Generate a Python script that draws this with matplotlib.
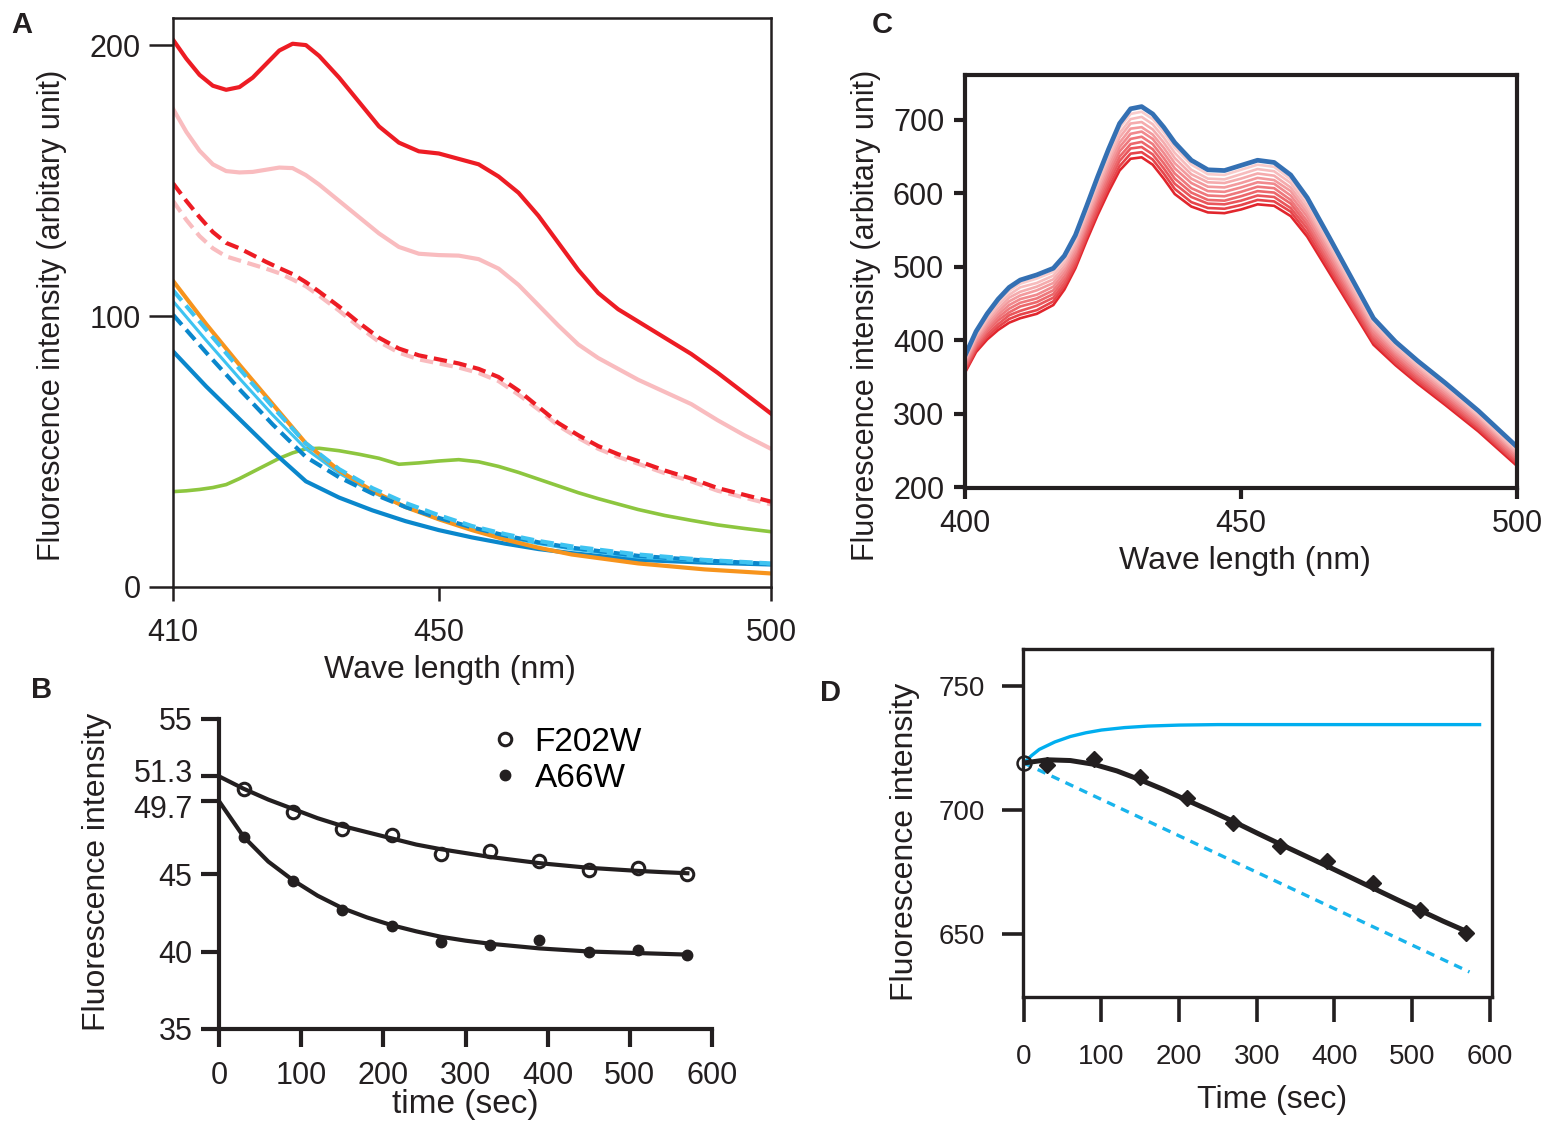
# Four-panel fluorescence figure (A: emission spectra, B: time course of two
# mutants, C: spectra series, D: time course with model curves).

import matplotlib
matplotlib.use("Agg")
import matplotlib.pyplot as plt
import matplotlib.transforms as mtransforms
from matplotlib.lines import Line2D

plt.rcParams['font.family'] = ['Liberation Sans', 'DejaVu Sans']
INK = '#231f20'

# ---------------- panel A: spectra 410-500 nm ----------------
wl_a = [410, 412, 414, 416, 418, 420, 422, 424, 426, 428, 430, 432, 435, 438,
        441, 444, 447, 450, 453, 456, 459, 462, 465, 468, 471, 474, 477, 480,
        484, 488, 492, 496, 500]
a_red = [202, 195, 189, 185, 183.5, 184.5, 188, 193, 198, 200.5, 200, 196,
         188, 179, 170, 164, 160.8, 160, 158, 156, 151.5, 145.5, 137, 127,
         117, 108.5, 102.5, 98, 92, 86, 79, 71.5, 64]
a_pink = [176.5, 168, 161, 156, 153.5, 153, 153.2, 154, 154.8, 154.6, 152,
          148.5, 142.5, 136.5, 130.5, 125.5, 123, 122.5, 122.3, 121, 117.5,
          111.5, 104, 96.5, 89.5, 84.5, 80.5, 76.5, 72, 67.5, 61.5, 56, 51]
a_red_dash = [149, 142.5, 136.5, 131, 127, 125, 122.5, 120, 117.7, 115.5,
              112.5, 109, 103.5, 97.5, 92, 88, 85.5, 84, 82.5, 80.5, 77.5,
              72.5, 66.5, 60.5, 56, 52, 49, 46.5, 43, 40, 36.5, 34, 31.5]
a_pink_dash = [142.5, 135.5, 129.5, 125, 122, 120.5, 119, 117.5, 115.8, 113.5,
               111, 107.5, 102, 96, 90.5, 86.5, 84, 82.5, 81, 79, 76, 71,
               65.5, 59.5, 55, 51, 48, 45.5, 42, 39, 35.5, 33, 30.5]
a_green = [35.2, 35.5, 36, 36.7, 37.8, 40, 42.5, 45, 47.5, 49.5, 51, 51.2,
           50.3, 49, 47.5, 45.3, 45.8, 46.5, 47, 46.2, 44.5, 42.3, 39.8, 37.3,
           34.8, 32.6, 30.6, 28.6, 26.4, 24.6, 22.9, 21.6, 20.4]

wl_a2 = [410, 415, 420, 425, 430, 435, 440, 445, 450, 455, 460, 465, 470,
         480, 490, 500]
a_orange = [113, 97, 82, 67.5, 53, 43, 35.5, 29.5, 25, 21, 17.5, 14.5, 12,
            8.7, 6.5, 5]
a_ltblue_dash = [109.5, 95, 80.5, 66.5, 53, 43.5, 36.5, 31, 26.5, 22.5, 19.5,
                 17, 15, 12, 10, 8.7]
a_ltblue = [105.5, 91, 77, 63.5, 51, 42, 35, 29.5, 25, 21.5, 18.5, 16, 14,
            11, 9.5, 8.5]
a_blue_dash = [100.5, 86.5, 73, 60, 48, 40.5, 34.5, 29.5, 25.5, 22, 19, 16.5,
               14.5, 11.5, 9.8, 8.5]
a_blue = [87, 74, 62, 50, 39, 33, 28.3, 24.3, 21, 18.3, 16, 14, 12.5, 10, 9,
          8.3]

# ---------------- panel B: time course ----------------
b_t = [30, 90, 150, 210, 270, 330, 390, 450, 510, 570]
b_f202w = [50.5, 49.0, 47.9, 47.5, 46.3, 46.5, 45.85, 45.25, 45.4, 45.0]
b_a66w = [47.4, 44.55, 42.7, 41.65, 40.6, 40.45, 40.75, 39.95, 40.1, 39.75]
b_fit_t = [0, 30, 60, 90, 120, 150, 180, 210, 240, 270, 300, 330, 360, 390,
           420, 450, 480, 510, 540, 570]
b_f202w_fit = [51.3, 50.5, 49.8, 49.2, 48.6, 48.1, 47.7, 47.3, 46.9, 46.6,
               46.35, 46.1, 45.9, 45.7, 45.55, 45.4, 45.3, 45.2, 45.12, 45.05]
b_a66w_fit = [49.7, 47.4, 45.8, 44.6, 43.6, 42.8, 42.2, 41.7, 41.3, 40.95,
              40.7, 40.5, 40.35, 40.2, 40.1, 40.0, 39.95, 39.9, 39.85, 39.8]
b_yticks = [35, 40, 45, 49.7, 51.3, 55]
b_yticklabels = ['35', '40', '45', '49.7', '51.3', '55']

# ---------------- panel C: spectra series ----------------
wl_c = [400, 402, 404, 406, 408, 410, 413, 416, 418, 420, 422, 424, 426, 428,
        430, 432, 434, 436, 438, 441, 444, 447, 450, 453, 456, 459, 462, 466,
        470, 474, 478, 482, 487, 493, 500]
c_blue = [379, 412, 436, 456, 472, 482, 489, 498, 515, 543, 582, 622, 660,
          695, 715, 718, 708, 690, 669, 645, 632, 631, 638, 645, 642, 625, 594,
          540, 485, 430, 398, 372, 342, 304, 255]
c_reds = [
    [377, 409, 433, 452, 467, 477, 484, 493, 510, 538, 577, 617, 654, 689, 708,
     711, 701, 683, 662, 639, 626, 625, 632, 639, 636, 619, 589, 535, 481, 426,
     395, 369, 339, 301, 252],
    [374, 406, 429, 448, 462, 472, 478, 488, 506, 534, 573, 612, 648, 682, 701,
     704, 694, 676, 655, 632, 620, 619, 626, 633, 630, 614, 583, 530, 477, 423,
     392, 366, 336, 298, 250],
    [372, 404, 426, 443, 458, 466, 473, 483, 501, 530, 568, 606, 643, 676, 695,
     697, 687, 669, 648, 626, 615, 614, 620, 627, 624, 608, 578, 526, 472, 419,
     388, 363, 333, 296, 247],
    [370, 401, 422, 439, 453, 461, 468, 478, 497, 525, 563, 601, 637, 669, 688,
     690, 680, 662, 641, 620, 609, 608, 614, 621, 618, 603, 573, 521, 468, 416,
     385, 360, 330, 293, 245],
    [368, 398, 419, 435, 448, 456, 462, 473, 492, 520, 558, 596, 631, 663, 681,
     684, 674, 655, 634, 614, 603, 602, 608, 615, 613, 597, 568, 516, 464, 412,
     382, 356, 327, 290, 242],
    [365, 395, 415, 431, 443, 451, 457, 468, 487, 516, 554, 591, 625, 657, 674,
     677, 667, 648, 627, 607, 597, 596, 602, 609, 607, 591, 562, 511, 460, 408,
     379, 353, 324, 287, 239],
    [363, 392, 412, 427, 438, 446, 452, 463, 483, 511, 549, 586, 619, 650, 667,
     670, 660, 641, 620, 601, 591, 590, 596, 603, 601, 586, 557, 506, 456, 405,
     376, 350, 321, 284, 237],
    [361, 390, 408, 422, 434, 440, 447, 458, 478, 507, 544, 580, 614, 644, 661,
     663, 653, 634, 613, 595, 586, 585, 590, 597, 595, 580, 552, 502, 451, 401,
     372, 347, 318, 282, 234],
    [358, 387, 405, 418, 429, 435, 441, 453, 474, 502, 540, 575, 608, 637, 654,
     656, 646, 627, 606, 588, 580, 579, 584, 591, 589, 575, 546, 497, 447, 398,
     369, 344, 315, 279, 232],
    [356, 384, 401, 414, 424, 430, 436, 448, 469, 498, 535, 570, 602, 631, 647,
     649, 639, 620, 599, 582, 574, 573, 578, 585, 583, 569, 541, 492, 443, 394,
     366, 341, 312, 276, 229],
]
c_red_colors = ['#f9cccc', '#f7bcbd', '#f5abad', '#f39a9d', '#f1898d',
                '#ee787c', '#ec676b', '#e9565b', '#e6444a', '#e1262d']

# ---------------- panel D: time course with model lines ----------------
d_t = [30, 90, 150, 210, 270, 330, 390, 450, 510, 570]
d_vals = [718.4, 720.8, 713.4, 704.7, 694.9, 685.5, 679.6, 670.4, 659.7, 650.5]
d_start_t = [0]
d_start_v = [719]
d_fit_t = [0, 30, 60, 90, 120, 150, 180, 210, 240, 270, 300, 330, 360, 390,
           420, 450, 480, 510, 540, 575]
d_fit = [719, 720.3, 720, 718.5, 715.8, 712.2, 708.3, 704, 699.8, 695.4,
         690.8, 686.3, 681.9, 677.5, 673, 668.5, 664, 659.6, 655.2, 650.4]
d_rise_t = [0, 10, 20, 40, 60, 80, 100, 130, 160, 200, 250, 587]
d_rise = [719, 722, 724.5, 727.5, 729.7, 731.2, 732.3, 733.3, 733.9, 734.3,
          734.5, 734.5]
d_drop_t = [0, 574]
d_drop = [719, 634.7]


W, H = 1552, 1122
fig = plt.figure(figsize=(W / 100, H / 100), dpi=100)


def box(x0, y0, x1, y1):
    return [x0 / W, 1 - y1 / H, (x1 - x0) / W, (y1 - y0) / H]


# ---- A ----
axA = fig.add_axes(box(173, 18, 771, 587))
lw = 3.0
axA.plot(wl_a, a_green, color='#8dc63f', lw=2.6)
axA.plot(wl_a2, a_blue, color='#0a87cc', lw=lw)
axA.plot(wl_a2, a_ltblue, color='#3ec3f1', lw=2.2)
axA.plot(wl_a2, a_orange, color='#f7941d', lw=lw)
axA.plot(wl_a2, a_blue_dash, color='#0a87cc', lw=lw, dashes=(3.2, 1.6))
axA.plot(wl_a2, a_ltblue_dash, color='#3ec3f1', lw=lw, dashes=(3.2, 1.6))
axA.plot(wl_a, a_pink_dash, color='#f9bcbf', lw=lw, dashes=(3.2, 1.6))
axA.plot(wl_a, a_red_dash, color='#ed1c24', lw=lw, dashes=(3.2, 1.6))
axA.plot(wl_a, a_pink, color='#f9bcbf', lw=lw)
axA.plot(wl_a, a_red, color='#ed1c24', lw=lw)
axA.set_xlim(410, 500)
axA.set_ylim(0, 210)
axA.set_xticks([410, 450, 500])
axA.set_yticks([0, 100, 200])
for s in axA.spines.values():
    s.set_linewidth(1.8)
    s.set_color(INK)
axA.tick_params(axis='y', direction='out', length=17, width=1.8, labelsize=22,
                pad=6, colors=INK)
axA.tick_params(axis='x', direction='out', length=10, width=1.8, labelsize=22,
                pad=12, colors=INK)
fig.text(52 / W, 1 - 315 / H, 'Fluorescence intensity (arbitary unit)',
         rotation=90, ha='center', va='center', fontsize=22, color=INK)
fig.text(450 / W, 1 - 670 / H, 'Wave length (nm)', ha='center', va='center',
         fontsize=23, color=INK)

# ---- C ----
axC = fig.add_axes(box(965, 75, 1517, 488))
for vals, col in reversed(list(zip(c_reds, c_red_colors))):
    axC.plot(wl_c, vals, color=col, lw=1.9)
axC.plot(wl_c, c_blue, color='#3470b3', lw=3.4)
axC.set_xlim(400, 500)
axC.set_ylim(199, 761)
axC.set_xticks([400, 450, 500])
axC.set_yticks([200, 300, 400, 500, 600, 700])
for s in axC.spines.values():
    s.set_linewidth(3)
    s.set_color(INK)
axC.tick_params(direction='out', length=8, width=3, labelsize=22, pad=7,
                colors=INK)
fig.text(866 / W, 1 - 315 / H, 'Fluorescence intensity (arbitary unit)',
         rotation=90, ha='center', va='center', fontsize=22, color=INK)
fig.text(1245 / W, 1 - 561 / H, 'Wave length (nm)', ha='center', va='center',
         fontsize=23, color=INK)

# ---- B ----
axB = fig.add_axes(box(219, 719, 712, 1029))
axB.plot(b_fit_t, b_f202w_fit, color=INK, lw=3, zorder=2)
axB.plot(b_fit_t, b_a66w_fit, color=INK, lw=3, zorder=2)
axB.plot(b_t, b_f202w, 'o', ms=9, mfc='none', mec=INK, mew=2.2, zorder=3)
axB.plot(b_t, b_a66w, 'o', ms=7.5, color=INK, zorder=3)
axB.set_xlim(0, 600)
axB.set_ylim(35, 55)
axB.set_xticks([0, 100, 200, 300, 400, 500, 600])
axB.set_yticks(b_yticks)
axB.set_yticklabels(b_yticklabels)
for side in ('top', 'right'):
    axB.spines[side].set_visible(False)
for side in ('left', 'bottom'):
    axB.spines[side].set_linewidth(3)
    axB.spines[side].set_color(INK)
axB.tick_params(direction='out', length=13, width=3, labelsize=22, pad=6,
                colors=INK)
axB.tick_params(axis='x', pad=10)
# the two close start values are spread apart a little, as in the figure
for lab, dy in zip(axB.get_yticklabels(), [0, 0, 0, -4, 4, 0]):
    lab.set_transform(lab.get_transform()
                      + mtransforms.ScaledTranslation(0, dy / 72,
                                                      fig.dpi_scale_trans))
handles = [Line2D([], [], ls='none', marker='o', ms=9, mfc='none', mec=INK,
                  mew=2.2),
           Line2D([], [], ls='none', marker='o', ms=7.5, color=INK)]
axB.legend(handles, ['F202W', 'A66W'], loc='upper left',
           bbox_to_anchor=(488 / W, 1 - 727 / H),
           bbox_transform=fig.transFigure, frameon=False, fontsize=24,
           handlelength=1.0, handletextpad=0.4, labelspacing=0.15,
           borderpad=0, borderaxespad=0)
fig.text(97 / W, 1 - 872 / H, 'Fluorescence intensity', rotation=90,
         ha='center', va='center', fontsize=23, color=INK)
fig.text(465 / W, 1 - 1105 / H, 'time (sec)', ha='center', va='center',
         fontsize=24, color=INK)

# ---- D ----
axD = fig.add_axes(box(1023, 649, 1492, 997))
axD.plot(d_drop_t, d_drop, color='#18b4ec', lw=2.4, dashes=(2.6, 2.0))
axD.plot(d_rise_t, d_rise, color='#00aeef', lw=2.4)
axD.plot(d_fit_t, d_fit, color=INK, lw=3.6)
axD.plot(d_t, d_vals, 'D', ms=8, color=INK)
axD.plot(d_start_t, d_start_v, 'o', ms=10, mfc='none', mec=INK, mew=1.8,
         zorder=5, clip_on=False)
axD.set_xlim(-1, 603)
axD.set_ylim(624.6, 765)
axD.set_xticks([0, 100, 200, 300, 400, 500, 600])
axD.set_yticks([650, 700, 750])
for s in axD.spines.values():
    s.set_linewidth(2.4)
    s.set_color(INK)
axD.tick_params(axis='y', direction='out', length=15, width=2.6, labelsize=20,
                pad=12, colors=INK)
axD.tick_params(axis='x', direction='out', length=18, width=2.6, labelsize=20,
                pad=16, colors=INK)
fig.text(905 / W, 1 - 842 / H, 'Fluorescence intensity', rotation=90,
         ha='center', va='center', fontsize=23, color=INK)
fig.text(1272 / W, 1 - 1100 / H, 'Time (sec)', ha='center', va='center',
         fontsize=23, color=INK)

# ---- panel letters ----
for letter, x, y in [('A', 22, 25), ('B', 42, 690), ('C', 882, 25),
                     ('D', 830, 693)]:
    fig.text(x / W, 1 - y / H, letter, ha='center', va='center',
             fontsize=21, fontweight='bold', color=INK)

fig.savefig('out.png', dpi=100)
